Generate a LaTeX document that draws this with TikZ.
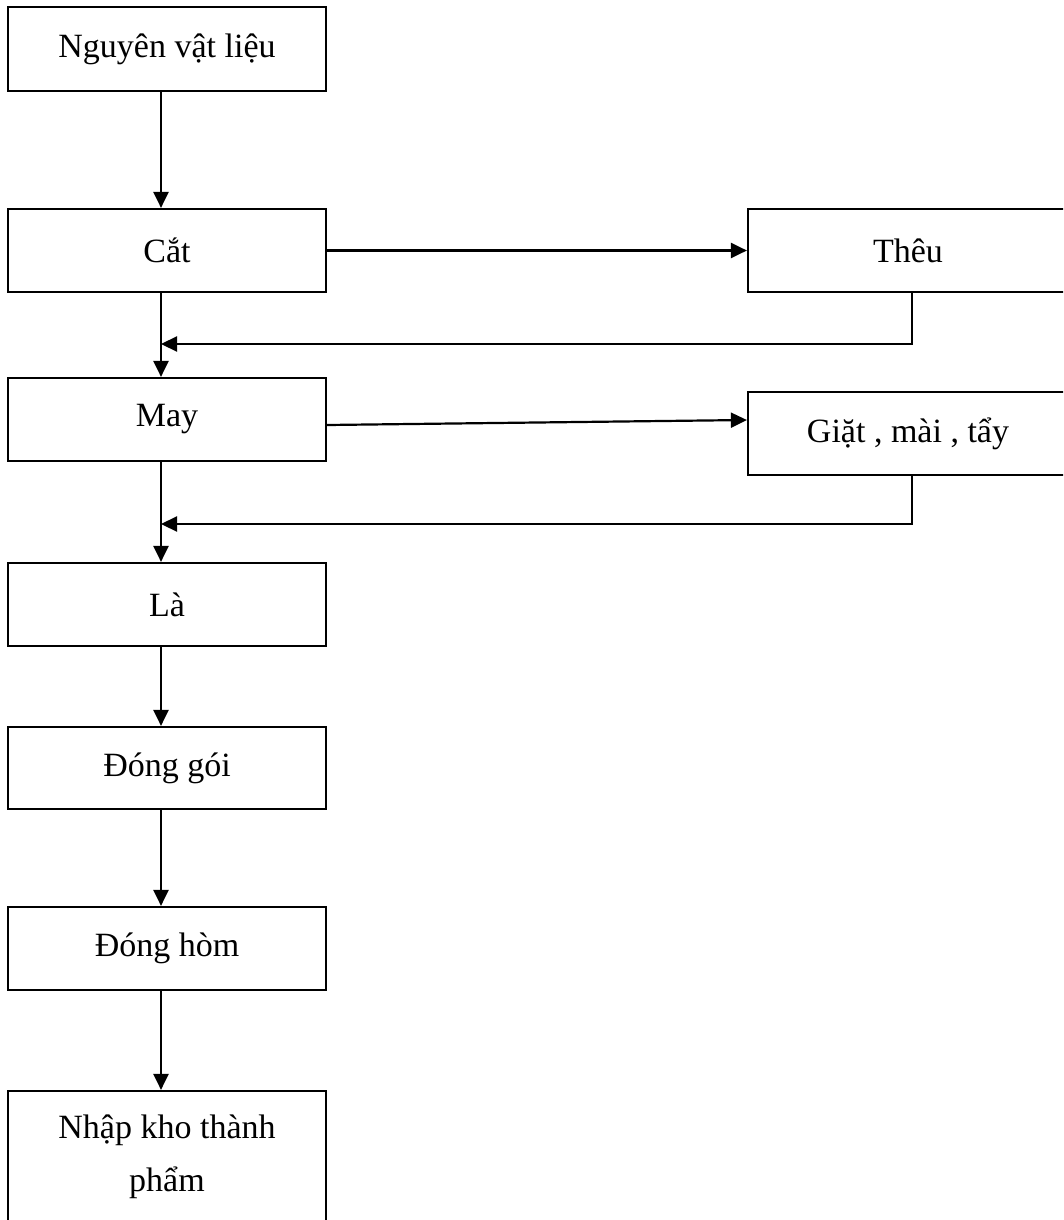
\documentclass[tikz,border=0pt]{standalone}
\usepackage{fontspec}
\setmainfont{Liberation Serif}
\usetikzlibrary{arrows.meta}
\begin{document}
\begin{tikzpicture}[x=1pt,y=-1pt,
  box/.style={draw,line width=2.2pt,rectangle,inner sep=0pt,
    minimum width=318pt,minimum height=83pt,
    font=\fontsize{34}{53}\selectfont,align=center},
  sidebox/.style={box,minimum width=320pt},
  flow/.style={line width=2.2pt,-{Triangle[length=16pt,width=15pt]}}]
  \useasboundingbox (0,0) rectangle (1063,1220);
  \clip (0,0) rectangle (1063,1220);

  % main column
  \node[box,minimum height=84pt] (nvl) at (167,49) {Nguyên vật liệu};
  \node[box] (cat) at (167,250.5) {Cắt};
  \node[box] (may) at (167,419.5) {May};
  \node[box] (la) at (167,604.5) {Là};
  \node[box,minimum height=82pt] (donggoi) at (167,768) {Đóng gói};
  \node[box] (donghom) at (167,948.5) {Đóng hòm};
  \node[box,minimum height=132pt] (nhapkho) at (167,1157) {Nhập kho thành\\phẩm};

  % side operations
  \node[sidebox] (theu) at (908,250.5) {Thêu};
  \node[sidebox] (giat) at (908,433.5) {Giặt , mài , tẩy};

  % guide coordinates for the spine and the return lines
  \coordinate (spine) at (161,0);
  \coordinate (ret1) at (912,344);
  \coordinate (ret2) at (912,524);

  % main flow
  \draw[flow] (nvl.south -| spine) -- (cat.north -| spine);
  \draw[flow] (cat.south -| spine) -- (may.north -| spine);
  \draw[flow] (may.south -| spine) -- (la.north -| spine);
  \draw[flow] (la.south -| spine) -- (donggoi.north -| spine);
  \draw[flow] (donggoi.south -| spine) -- (donghom.north -| spine);
  \draw[flow] (donghom.south -| spine) -- (nhapkho.north -| spine);

  % branches out to the side operations
  \draw[flow] (cat.east) -- (theu.west);
  \draw[flow] ([yshift=-5.5pt]may.east) -- ([yshift=13.5pt]giat.west);

  % returns into the main flow
  \draw[flow] (theu.south -| ret1) -- (ret1) -- (ret1 -| spine);
  \draw[flow] (giat.south -| ret2) -- (ret2) -- (ret2 -| spine);
\end{tikzpicture}
\end{document}
